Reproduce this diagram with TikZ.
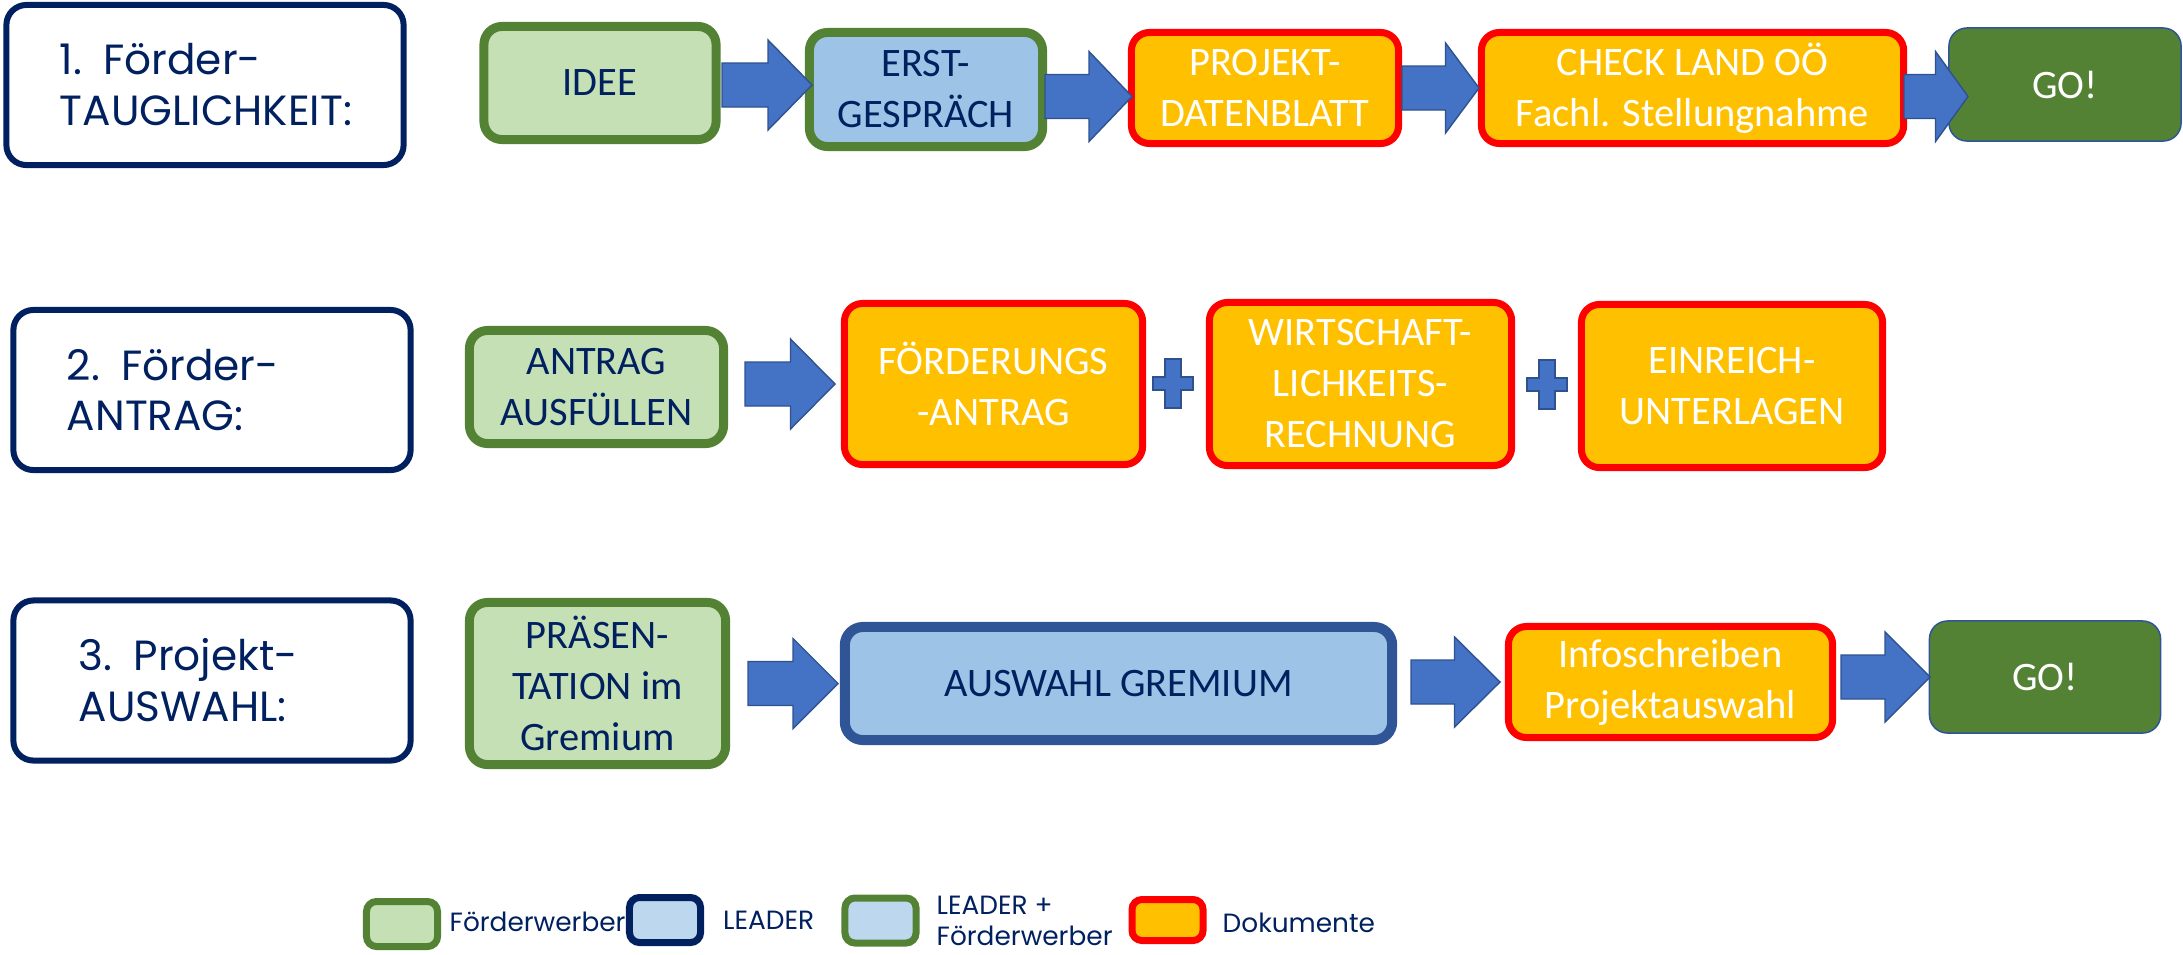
\documentclass[tikz,border=0pt]{standalone}
\usepackage{fontspec}
\setmainfont{Carlito}
\newfontfamily\gothic{Poppins}
\usetikzlibrary{calc}

\definecolor{navy}{HTML}{002060}
\definecolor{leafgreen}{HTML}{548235}
\definecolor{palegreen}{HTML}{C5E0B4}
\definecolor{skyblue}{HTML}{9DC3E6}
\definecolor{paleblue}{HTML}{BDD7EE}
\definecolor{docorange}{HTML}{FFC000}
\definecolor{docred}{HTML}{FF0000}
\definecolor{arrowblue}{HTML}{4472C4}
\definecolor{arrowedge}{HTML}{2F528F}
\definecolor{gremiumedge}{HTML}{2F5597}

\begin{document}
\begin{tikzpicture}[x=0.01cm,y=-0.01cm,
		phase/.style={draw=navy,line width=0.06cm,rounded corners=0.2cm,fill=white,minimum width=3.97cm,minimum height=1.6cm,text width=2.9cm,align=left,text=navy,font=\gothic\fontsize{12}{14.5}\selectfont},
		box/.style={rounded corners=0.18cm,inner sep=0pt,align=center,font=\fontsize{11.5}{14.5}\selectfont},
		applicant/.style={box,draw=leafgreen,line width=0.09cm,fill=palegreen,text=navy},
		joint/.style={box,draw=leafgreen,line width=0.09cm,fill=skyblue,text=navy},
		leader/.style={box,draw=gremiumedge,line width=0.1cm,fill=skyblue,text=navy},
		docbox/.style={box,draw=docred,line width=0.07cm,fill=docorange,text=white},
		gobox/.style={box,draw=gremiumedge,line width=0.015cm,fill=leafgreen,text=white},
		swatch/.style={minimum width=0.71cm,minimum height=0.45cm,line width=0.07cm,rounded corners=0.1cm,inner sep=0pt},
		blockarrow/.style={fill=arrowblue,draw=arrowedge,line width=0.4pt},
		legendtext/.style={anchor=west,inner sep=0pt,text=navy,align=left,font=\gothic\fontsize{7.5}{9}\selectfont}]
		\useasboundingbox (0,0) rectangle (2183,954);
		
		% Row 1: Foerdertauglichkeit
		\node[phase] (p1) at (205,85) {1. Förder-\\TAUGLICHKEIT:};
		\node[applicant,minimum width=2.32cm,minimum height=1.13cm] (idee) at (600,83) {IDEE};
		\node[joint,minimum width=2.33cm,minimum height=1.14cm] (erst) at (926,89.5) {ERST-\\GESPRÄCH};
		\node[docbox,minimum width=2.67cm,minimum height=1.11cm] (datenblatt) at (1265,88) {PROJEKT-\\DATENBLATT};
		\node[docbox,minimum width=4.22cm,minimum height=1.11cm] (check) at (1692.5,88) {CHECK LAND OÖ\\Fachl. Stellungnahme};
		\node[gobox,minimum width=2.32cm,minimum height=1.13cm] (go1) at (2065,84.5) {GO!};
		
		% Row 2: Foerderantrag
		\node[phase] (p2) at (212,390) {2. Förder-\\ANTRAG:};
		\node[applicant,minimum width=2.54cm,minimum height=1.13cm] (ausfuellen) at (596.5,387) {ANTRAG\\AUSFÜLLEN};
		\node[docbox,minimum width=2.98cm,minimum height=1.61cm] (antrag) at (993.5,384) {FÖRDERUNGS\\-ANTRAG};
		\node[docbox,minimum width=3.02cm,minimum height=1.63cm] (rechnung) at (1360.5,384) {WIRTSCHAFT-\\LICHKEITS-\\RECHNUNG};
		\node[docbox,minimum width=3.01cm,minimum height=1.63cm] (unterlagen) at (1732,386) {EINREICH-\\UNTERLAGEN};
		
		% Row 3: Projektauswahl
		\node[phase,text width=2.66cm] (p3) at (212,680.5) {3. Projekt-\\AUSWAHL:};
		\node[applicant,minimum width=2.56cm,minimum height=1.62cm] (praesentation) at (597.5,683.5) {PRÄSEN-\\TATION im\\Gremium};
		\node[leader,minimum width=5.47cm,minimum height=1.13cm] (gremium) at (1118.5,683.5) {AUSWAHL GREMIUM};
		\node[docbox,minimum width=3.24cm,minimum height=1.11cm] (info) at (1670.5,682) {Infoschreiben\\Projektauswahl};
		\node[gobox,minimum width=2.31cm,minimum height=1.12cm] (go3) at (2045,677) {GO!};
		
		% Draw the block arrows
		\foreach \x/\y/\l/\h in {722/85/90/44, 1045/96.5/87/43, 1402/88/77/33.5, 1904/96.5/64/32.5, 745/384/90/44.5, 748/683.5/90/45, 1411/682/89/45.5, 1841/677/89/45} {
			\draw[blockarrow] (\x,\y-22) -- (\x+\l-\h,\y-22) -- (\x+\l-\h,\y-45) -- (\x+\l,\y) -- (\x+\l-\h,\y+45) -- (\x+\l-\h,\y+22) -- (\x,\y+22) -- cycle;
		}
		
		% Draw the plus signs
		\foreach \x/\y in {1173/383.5, 1547/384.5} {
			\draw[blockarrow] (\x-8,\y-24.5) -- (\x+8,\y-24.5) -- (\x+8,\y-6.5) -- (\x+20,\y-6.5) -- (\x+20,\y+6.5) -- (\x+8,\y+6.5) -- (\x+8,\y+24.5) -- (\x-8,\y+24.5) -- (\x-8,\y+6.5) -- (\x-20,\y+6.5) -- (\x-20,\y-6.5) -- (\x-8,\y-6.5) -- cycle;
		}
		
		% Legend
		\node[swatch,draw=leafgreen,fill=palegreen] (lg1) at (402,924) {};
		\node[legendtext] (lt1) at (449,922) {Förderwerber};
		\node[swatch,draw=navy,fill=paleblue] (lg2) at (665,920) {};
		\node[legendtext] (lt2) at (722.5,920) {LEADER};
		\node[swatch,draw=leafgreen,fill=paleblue] (lg3) at (880.5,920.5) {};
		\node[legendtext] (lt3) at (936,921) {LEADER +\\Förderwerber};
		\node[swatch,draw=docred,fill=docorange,minimum height=0.41cm] (lg4) at (1167.5,920) {};
		\node[legendtext] (lt4) at (1222,923) {Dokumente};
	\end{tikzpicture}
\end{document}
